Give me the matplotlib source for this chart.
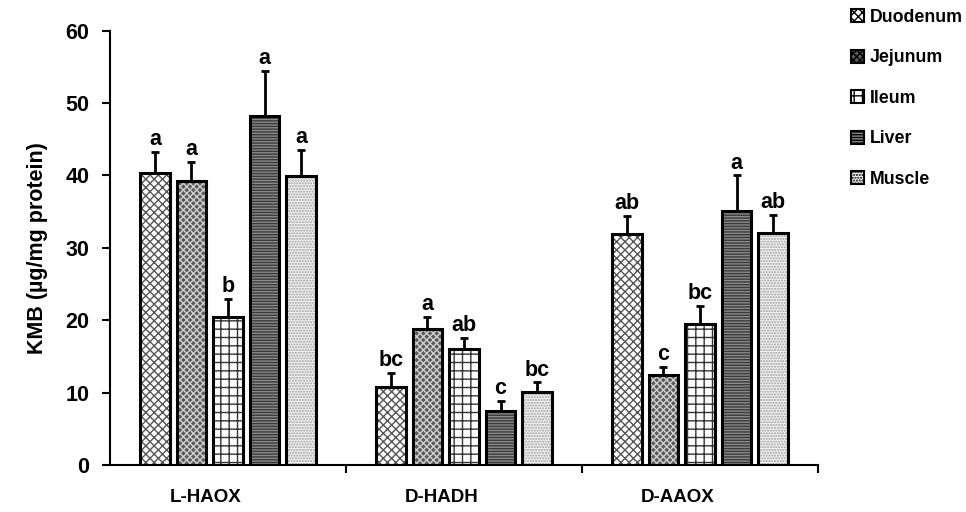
import matplotlib
matplotlib.use("Agg")
import matplotlib.pyplot as plt
import numpy as np
from matplotlib.patches import Patch
from matplotlib.transforms import ScaledTranslation

plt.rcParams['font.family'] = ['Liberation Sans', 'DejaVu Sans']
plt.rcParams['font.weight'] = 'bold'
plt.rcParams['hatch.linewidth'] = 1.0

categories = ["L-HAOX", "D-HADH", "D-AAOX"]
tissues = ["Duodenum", "Jejunum", "Ileum", "Liver", "Muscle"]

duodenum = [40.3, 10.8, 31.9]
jejunum = [39.2, 18.8, 12.4]
ileum = [20.4, 16.0, 19.5]
liver = [48.2, 7.5, 35.1]
muscle = [39.9, 10.1, 32.0]

duodenum_err = [2.9, 1.9, 2.5]
jejunum_err = [2.6, 1.7, 1.2]
ileum_err = [2.6, 1.6, 2.5]
liver_err = [6.3, 1.3, 4.9]
muscle_err = [3.6, 1.3, 2.5]

duodenum_lbl = ["a", "bc", "ab"]
jejunum_lbl = ["a", "a", "c"]
ileum_lbl = ["b", "ab", "bc"]
liver_lbl = ["a", "c", "a"]
muscle_lbl = ["a", "bc", "ab"]

values = [duodenum, jejunum, ileum, liver, muscle]
errors = [duodenum_err, jejunum_err, ileum_err, liver_err, muscle_err]
letters = [duodenum_lbl, jejunum_lbl, ileum_lbl, liver_lbl, muscle_lbl]

styles = [
    dict(face="white", hcol="#555555", hatch="xxxx"),
    dict(face="#5a5a5a", hcol="#d0d0d0", hatch="xxxxx"),
    dict(face="white", hcol="#333333", hatch="++"),
    dict(face="#8a8a8a", hcol="#3a3a3a", hatch="------"),
    dict(face="#f0f0f0", hcol="#a0a0a0", hatch="......"),
]

fig = plt.figure(figsize=(9.66, 5.12), dpi=100)
ax = fig.add_axes([110/966, 47/512, 708/966, 434.3/512])

x = np.arange(len(categories))
step = 0.1547
width = 0.127

for i, (vals, errs, lbls, st) in enumerate(zip(values, errors, letters, styles)):
    pos = x + (i - 2) * step
    ax.bar(pos, vals, width, color=st["face"], edgecolor=st["hcol"],
           hatch=st["hatch"], linewidth=0, zorder=2)
    ax.bar(pos, vals, width, color="none", edgecolor="black",
           linewidth=2.2, zorder=3)
    ax.errorbar(pos, vals, yerr=[np.zeros(len(vals)), errs], fmt="none",
                ecolor="black", elinewidth=2, capsize=3, capthick=2, zorder=1)
    for p, v, e, t in zip(pos, vals, errs, lbls):
        ax.annotate(t, (p, v + e), xytext=(0, 5), textcoords="offset points",
                    ha="center", va="baseline", fontsize=15.5,
                    fontweight="bold")

ax.set_xlim(-0.5, 2.5)
ax.set_ylim(0, 60)
ax.set_yticks(np.arange(0, 61, 10))
ax.set_xticks(x)
ax.set_xticklabels(categories)
ax.set_xticks([0.5, 1.5, 2.5], minor=True)
ax.tick_params(axis="x", which="major", length=0, pad=17, labelsize=13.5)
ax.tick_params(axis="x", which="minor", length=6, width=1.5, direction="out")
ax.tick_params(axis="y", length=6, width=1.5, direction="out", pad=9,
               labelsize=15.5)
shift = ScaledTranslation(-22/100, 0, fig.dpi_scale_trans)
for lab in ax.get_xticklabels():
    lab.set_fontweight("bold")
    lab.set_transform(lab.get_transform() + shift)
for lab in ax.get_yticklabels():
    lab.set_fontweight("bold")
for s in ["top", "right"]:
    ax.spines[s].set_visible(False)
for s in ["left", "bottom"]:
    ax.spines[s].set_linewidth(1.5)

ax.set_ylabel("KMB (µg/mg protein)", fontsize=15.5, fontweight="bold", labelpad=12)

handles = [Patch(facecolor=st["face"], edgecolor="black", hatch=st["hatch"],
                 linewidth=1.5) for st in styles]
leg = fig.legend(handles, tissues, loc="upper left",
                 bbox_to_anchor=(835/966, 1.014), frameon=False,
                 handlelength=0.75, handleheight=0.75, handletextpad=0.3,
                 labelspacing=1.32, prop=dict(weight="bold", size=12.8))

fig.savefig("out.png", dpi=100)
